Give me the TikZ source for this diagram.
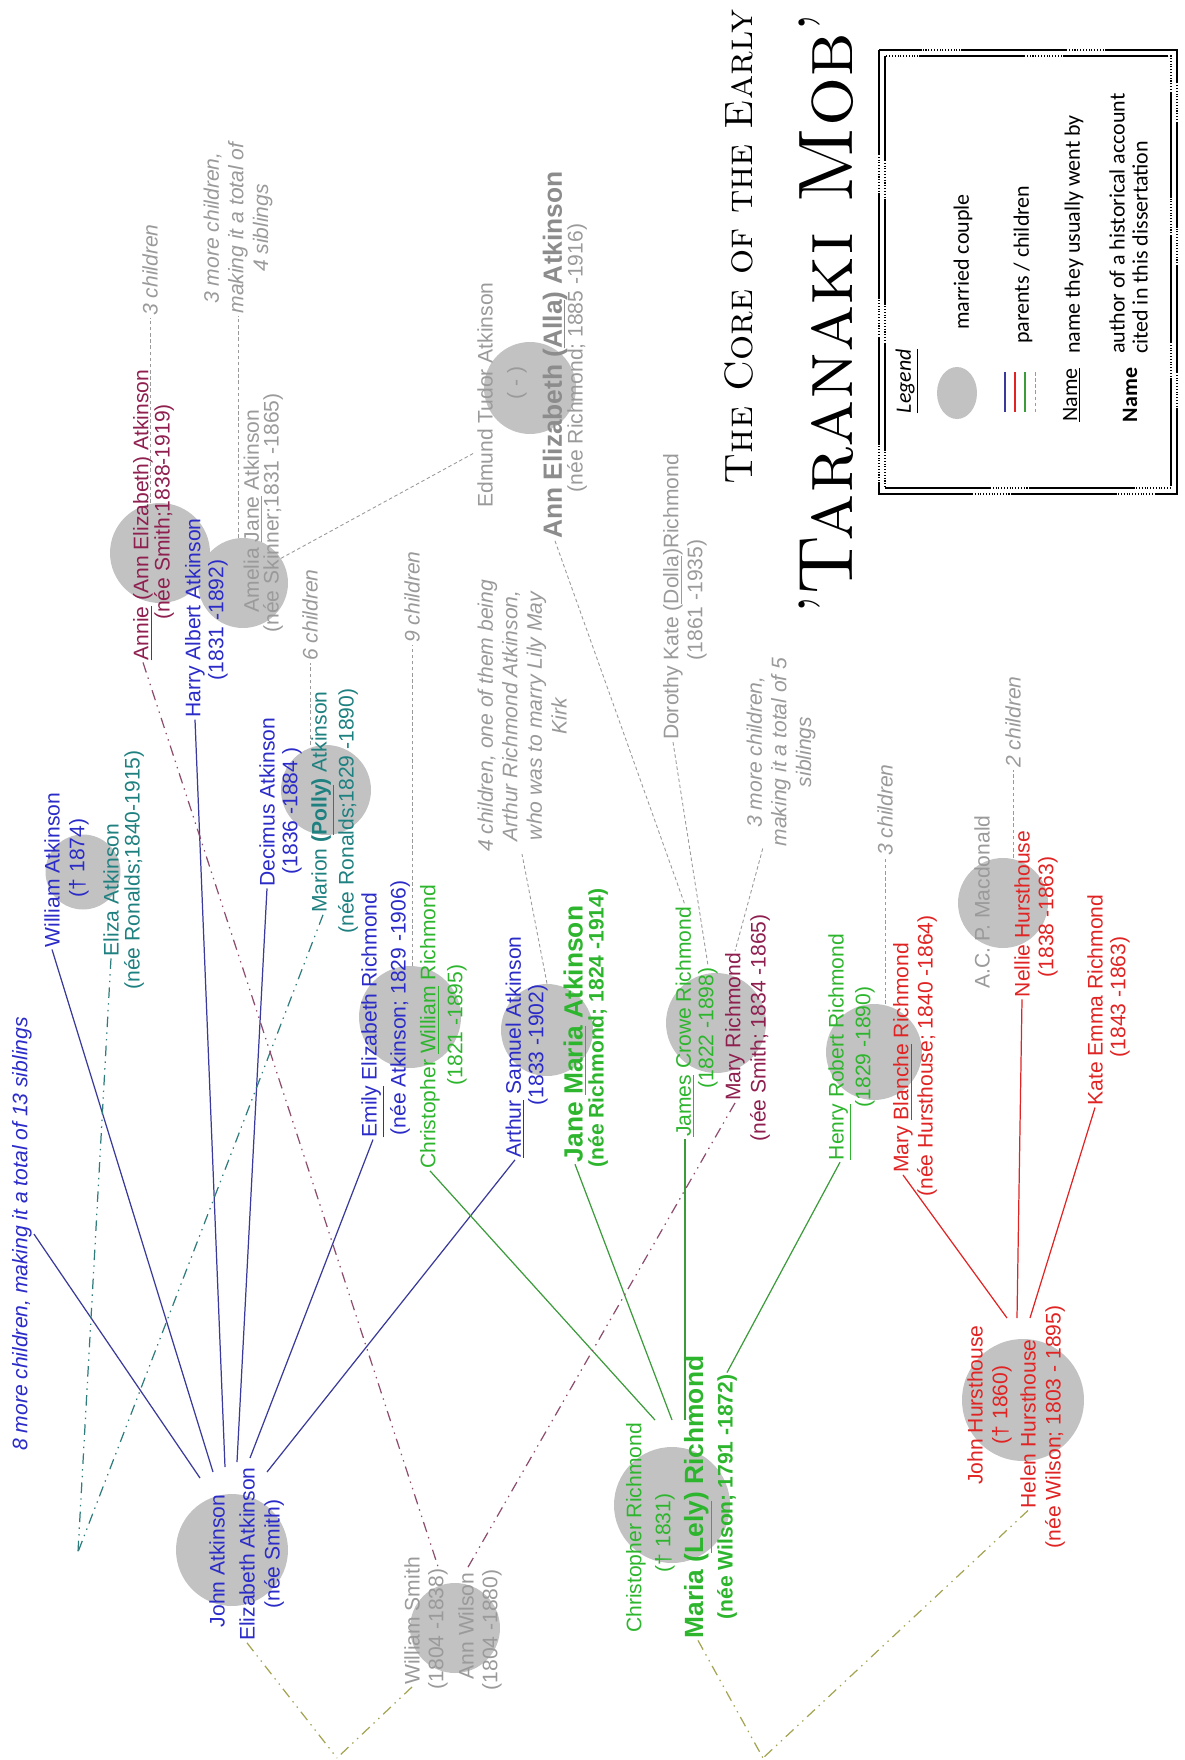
\documentclass[tikz,border=0pt]{standalone}
\usepackage{fontspec}
\usetikzlibrary{shapes.geometric,calc}
\newfontfamily\treefont{Liberation Sans}
\newfontfamily\legendfont{Carlito}

\definecolor{coupleGrey}{HTML}{C2C2C2}
\definecolor{atkBlue}{HTML}{2B2BC8}
\definecolor{atkLine}{HTML}{3A3A9A}
\definecolor{ronTeal}{HTML}{1F8080}
\definecolor{smiMaroon}{HTML}{8E1F4F}
\definecolor{ricGreen}{HTML}{2EB52E}
\definecolor{ricLine}{HTML}{3C9C3C}
\definecolor{hurRed}{HTML}{E02424}
\definecolor{othGrey}{HTML}{9A9A9A}
\definecolor{allaGrey}{HTML}{8C8C8C}
\definecolor{oliveLine}{HTML}{A3A352}
\definecolor{maroonLine}{HTML}{8E4D6E}
\definecolor{tealLine}{HTML}{2E7C7C}

\tikzset{
  couple/.style={circle, fill=coupleGrey, inner sep=0pt},
  person/.style={rotate=90, inner sep=1pt, font=\treefont\fontsize{12}{14}\selectfont},
  atk/.style={person, text=atkBlue},
  ron/.style={person, text=ronTeal},
  smi/.style={person, text=smiMaroon},
  ric/.style={person, text=ricGreen},
  hur/.style={person, text=hurRed},
  oth/.style={person, text=othGrey},
  bigperson/.style={person, font=\treefont\bfseries\fontsize{15}{18}\selectfont},
  boldperson/.style={person, font=\treefont\bfseries\fontsize{12}{14}\selectfont},
  note/.style={person, align=center, text=othGrey, font=\treefont\itshape\fontsize{12}{14}\selectfont},
  legendtext/.style={rotate=90, inner sep=1pt, anchor=west, font=\legendfont\fontsize{12.5}{15}\selectfont},
  kin/.style={line width=0.7pt},
  kidline/.style={othGrey, line width=0.5pt, dash pattern=on 2pt off 1.5pt},
  sibline/.style={line width=0.7pt, dash pattern=on 6pt off 3pt on 0.8pt off 3pt on 0.8pt off 3pt},
}

\begin{document}
\begin{tikzpicture}[x=0.02cm,y=-0.02cm]
\useasboundingbox (0,0) rectangle (1184,1760);

% married couples
\node[couple, minimum size=2.24cm] (johnC) at (232,1550) {};
\node[couple, minimum size=1.8cm] (smithC) at (455,1628) {};
\node[couple, minimum size=2.32cm] (lelyC) at (672,1505) {};
\node[couple, minimum size=2.44cm] (hurstC) at (1023,1400) {};
\node[couple, minimum size=1.5cm] (williamC) at (83,872) {};
\node[couple, minimum size=2cm] (annieC) at (160,553) {};
\node[couple, minimum size=1.8cm] (ameliaC) at (243,583) {};
\node[couple, minimum size=1.8cm] (pollyC) at (326,790) {};
\node[couple, minimum size=2.04cm] (emilyC) at (410,1017) {};
\node[couple, minimum size=1.84cm] (arthurC) at (547,1030) {};
\node[couple, minimum size=1.84cm] (allaC) at (530,388) {};
\node[couple, minimum size=2cm] (jamesC) at (716,1023) {};
\node[couple, minimum size=1.92cm] (henryC) at (874,1052) {};
\node[couple, minimum size=1.8cm] (macC) at (1003,903) {};

% Atkinson family
\node[atk] (john) at (217,1561) {John Atkinson};
\node[atk] (elizabeth) at (247,1554) {Elizabeth Atkinson};
\node[atk] (elizabethD) at (274,1554) {(née Smith)};
\node[note, text=atkBlue] (eightmore) at (22,1234) {8 more children, making it a total of 13 siblings};
\node[atk] (williamA) at (52,870) {William Atkinson};
\node[atk] (williamAD) at (79,858) {(† 1874)};
\node[ron] (eliza) at (111,890) {Eliza Atkinson};
\node[ron] (elizaD) at (134,870) {(née Ronalds;1840-1915)};
\node[smi] (annie) at (143,515) {\underline{Annie} (Ann Elizabeth) Atkinson};
\node[smi] (annieD) at (164,512) {(née Smith;1838-1919)};
\node[note] (threechA) at (150,270) {3 children};
\node[atk] (harry) at (195,618) {Harry Albert Atkinson};
\node[atk] (harryD) at (218,620) {(1831 -1892)};
\node[oth] (amelia) at (253,511) {Amelia \underline{Jane} Atkinson};
\node[oth] (ameliaD) at (273,513) {(née Skinner;1831 -1865)};
\node[note] (amelianote) at (238,228) {3 more children,\\making it a total of\\4 siblings};
\node[atk] (decimus) at (267,802) {Decimus Atkinson};
\node[atk] (decimusD) at (292,811) {(1836 -1884 )};
\node[ron] (marion) at (323,802) {Marion \textbf{(\underline{Polly})} Atkinson};
\node[ron] (marionD) at (348,811) {(née Ronalds;1829 -1890)};
\node[note] (sixch) at (310,615) {6 children};
\node[atk] (emily) at (373,1015) {\underline{Emily} Elizabeth Richmond};
\node[atk] (emilyD) at (400,1008) {(née Atkinson; 1829 -1906)};
\node[ric] (cwilliam) at (430,1027) {Christopher \underline{William} Richmond};
\node[ric] (cwilliamD) at (457,1025) {(1821 -1895)};
\node[note] (ninech) at (412,597) {9 children};
\node[atk] (arthur) at (515,1047) {\underline{Arthur} Samuel Atkinson};
\node[atk] (arthurD) at (538,1045) {(1833 -1902)};
\node[bigperson, text=ricGreen] (janemaria) at (575,1034) {Jane \underline{Maria} Atkinson};
\node[boldperson, text=ricGreen] (janemariaD) at (598,1028) {(née Richmond; 1824 -1914)};
\node[note] (arthurnote) at (522,716) {4 children, one of them being\\Arthur Richmond Atkinson,\\who was to marry Lily May\\Kirk};
\node[oth] (edmund) at (485,395) {Edmund Tudor Atkinson};
\node[oth] (edmundD) at (517,383) {( - )};
\node[bigperson, text=allaGrey] (alla) at (555,355) {Ann Elizabeth (\underline{Alla}) Atkinson};
\node[oth] (allaD) at (577,358) {(née Richmond; 1885 -1916)};

% Richmond family
\node[oth] (dorothy) at (673,597) {Dorothy Kate (\underline{Dolla})Richmond};
\node[oth] (dorothyD) at (697,600) {(1861 -1935)};
\node[ric] (james) at (685,1022) {\underline{James} Crowe Richmond};
\node[ric] (jamesD) at (708,1028) {(1822 -1898)};
\node[smi] (mary) at (735,1027) {Mary Richmond};
\node[smi] (maryD) at (760,1028) {(née Smith; 1834 -1865)};
\node[note] (jamesnote) at (781,752) {3 more children,\\making it a total of 5\\siblings};
\node[ric] (henry) at (840,1047) {\underline{Henry} Robert Richmond};
\node[ric] (henryD) at (865,1047) {(1829 -1890)};
\node[note] (threechH) at (885,810) {3 children};
\node[ric] (crich) at (636,1528) {Christopher Richmond};
\node[ric] (crichD) at (665,1533) {(† 1831)};
\node[bigperson, text=ricGreen] (lely) at (698,1497) {Maria (\underline{Lely}) Richmond};
\node[boldperson, text=ricGreen] (lelyD) at (727,1497) {(née Wilson; 1791 -1872)};

% Hursthouse family
\node[hur] (maryb) at (903,1058) {Mary \underline{Blanche} Richmond};
\node[hur] (marybD) at (927,1056) {(née Hursthouse; 1840 -1864)};
\node[oth] (macdonald) at (982,902) {A.C. P. Macdonald};
\node[hur] (nellie) at (1022,914) {Nellie Hursthouse};
\node[hur] (nellieD) at (1048,917) {(1838 -1863)};
\node[note] (twoch) at (1013,722) {2 children};
\node[hur] (kate) at (1095,1000) {Kate Emma Richmond};
\node[hur] (kateD) at (1120,997) {(1843 -1863)};
\node[hur] (jhurst) at (975,1405) {John Hursthouse};
\node[hur] (jhurstD) at (1002,1405) {(† 1860)};
\node[hur] (helen) at (1028,1424) {Helen Hursthouse};
\node[hur] (helenD) at (1055,1427) {(née Wilson; 1803 - 1895)};

% Smith / Wilson
\node[oth] (wsmith) at (412,1621) {William Smith};
\node[oth] (wsmithD) at (438,1629) {(1804 -1838)};
\node[oth] (awilson) at (466,1626) {Ann Wilson};
\node[oth] (awilsonD) at (492,1630) {(1804 -1880)};

% where the parent lines leave the couples
\coordinate (jf1) at (200,1478);
\coordinate (jf2) at (213,1472);
\coordinate (jf3) at (225,1467);
\coordinate (jf4) at (237,1462);
\coordinate (jf5) at (250,1458);
\coordinate (jf6) at (267,1472);
\coordinate (lf1) at (655,1420);
\coordinate (lf2) at (672,1420);
\coordinate (lf3) at (685,1420);
\coordinate (hf1) at (1007,1318);
\coordinate (hf2) at (1017,1318);
\coordinate (hf3) at (1030,1318);
\coordinate (ronaldsApex) at (78,1552);
\coordinate (smithApex) at (337,1758);
\coordinate (wilsonApex) at (763,1758);

% parents / children
\draw[kin, atkLine] (jf1) -- (eightmore.south);
\draw[kin, atkLine] (jf2) -- (williamA.west);
\draw[kin, atkLine] (jf3) -- (harry.west);
\draw[kin, atkLine] (jf4) -- (decimus.west);
\draw[kin, atkLine] (jf5) -- (emily.west);
\draw[kin, atkLine] (jf6) -- (arthur.west);
\draw[kin, ricLine] (lf1) -- (cwilliam.west);
\draw[kin, ricLine] (lf2) -- (janemaria.west);
\draw[kin, ricLine] (lf3) -- (james.west);
\draw[kin, ricLine] (lelyD.east) -- (henry.west);
\draw[kin, hurRed] (hf1) -- (maryb.west);
\draw[kin, hurRed] (hf2) -- (nellie.west);
\draw[kin, hurRed] (hf3) -- (kate.west);

% children not shown
\draw[kidline] (threechA.west |- annieC.north) -- (threechA.west);
\draw[kidline] (amelianote.west |- ameliaC.north) -- (amelianote.west);
\draw[kidline] (sixch.west |- pollyC.north) -- (sixch.west);
\draw[kidline] (ninech.west |- emilyC.north) -- (ninech.west);
\draw[kidline] (arthurC.north) -- (arthurnote.west);
\draw[kidline] (threechH.west |- henryC.north) -- (threechH.west);
\draw[kidline] (twoch.west |- macC.north) -- (twoch.west);
\draw[kidline] (ameliaC.33) -- ($(edmund.north west)!0.25!(edmund.north east)$);
\draw[kidline] (alla.west) -- (james.east);
\draw[kidline] (dorothy.west) -- (jamesD.east);
\draw[kidline] ($(jamesnote.west)!0.5!(jamesnote.north west)$) -- (mary.east);

% brothers and sisters
\draw[sibline, tealLine] (eliza.west) -- (ronaldsApex);
\draw[sibline, tealLine] (marion.west) -- (ronaldsApex);
\draw[sibline, maroonLine] (annie.west) -- (wsmithD.east);
\draw[sibline, maroonLine] (mary.west) -- (awilson.east);
\draw[sibline, oliveLine] (elizabeth.west) -- (smithApex);
\draw[sibline, oliveLine] (wsmith.west) -- (smithApex);
\draw[sibline, oliveLine] (lely.west) -- (wilsonApex);
\draw[sibline, oliveLine] (helen.west) -- (wilsonApex);

% title
\node[rotate=90, font=\fontsize{22.5}{27}\selectfont] (coreT) at (739,247) {\textsc{The Core of the Early}};
\node[rotate=90, font=\fontsize{44}{52}\selectfont] (mobT) at (826,314) {'\textsc{Taranaki Mob}'};

% legend
\draw[densely dotted, line width=0.6pt] (879,50) rectangle (1177,494);
\draw[densely dotted, line width=0.6pt] (885,56) rectangle (1171,488);
\draw[line width=0.7pt, dash pattern=on 60pt off 22pt] (879,50) rectangle (1177,494);
\draw[line width=0.7pt, dash pattern=on 60pt off 22pt] (885,56) rectangle (1171,488);
\node[legendtext, anchor=center] (legendT) at (907,381) {\textit{\underline{Legend}}};
\node[ellipse, fill=coupleGrey, minimum width=0.8cm, minimum height=1.04cm, inner sep=0pt] (legendC) at (957,393) {};
\node[legendtext] (marriedT) at (963,332) {married couple};
\draw[kin, atkLine] (1005,372) -- (1005,412);
\draw[kin, hurRed] (1015,372) -- (1015,412);
\draw[kin, ricLine] (1025,372) -- (1025,412);
\draw[kidline] (1035,372) -- (1035,412);
\node[legendtext] (parentsT) at (1023,346) {parents / children};
\node[legendtext, anchor=center] (nameU) at (1072,395) {\underline{Name}};
\node[legendtext] (nameUT) at (1074,356) {name they usually went by};
\node[legendtext, anchor=center] (nameB) at (1130,395) {\textbf{Name}};
\node[legendtext] (authorT) at (1117,356) {author of a historical account};
\node[legendtext] (citedT) at (1140,356) {cited in this dissertation};
\end{tikzpicture}
\end{document}
